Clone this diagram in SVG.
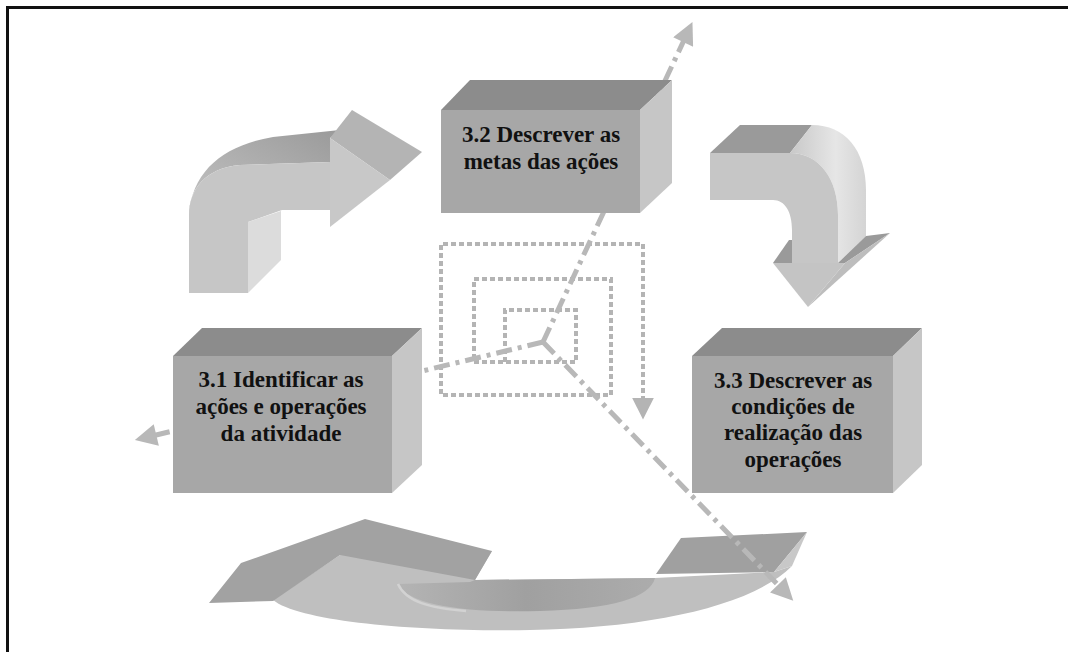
<svg xmlns="http://www.w3.org/2000/svg" width="1068" height="652" viewBox="0 0 1068 652">
  <style>
    .top { fill: #8c8c8c; }
    .front { fill: #a7a7a7; }
    .side { fill: #c6c6c6; }
    .label { font-family: "Liberation Serif", "Times New Roman", serif; font-weight: bold; font-size: 23px; fill: #111; text-anchor: middle; }
    .ray { fill: none; stroke: #b8b8b8; stroke-width: 5; stroke-dasharray: 16 6 4 6; }
    .spiral { fill: none; stroke: #b4b4b4; stroke-width: 4; stroke-dasharray: 5 3; }
  </style>
  <defs>
    <marker id="head" viewBox="0 0 10 10" refX="2" refY="5" markerWidth="24" markerHeight="22" markerUnits="userSpaceOnUse" orient="auto">
      <path d="M0,0 L10,5 L0,10 Z" fill="#b8b8b8"/>
    </marker>
    <marker id="spiralHead" viewBox="0 0 10 10" refX="2" refY="5" markerWidth="22" markerHeight="24" markerUnits="userSpaceOnUse" orient="auto">
      <path d="M0,0 L10,5 L0,10 Z" fill="#b4b4b4"/>
    </marker>
    <linearGradient id="bendTop" x1="0" y1="1" x2="1" y2="0">
      <stop offset="0" stop-color="#c4c4c4"/>
      <stop offset="1" stop-color="#9a9a9a"/>
    </linearGradient>
    <linearGradient id="bendSide" x1="0" y1="0" x2="1" y2="0">
      <stop offset="0" stop-color="#c8c8c8"/>
      <stop offset="0.6" stop-color="#e6e6e6"/>
      <stop offset="1" stop-color="#d4d4d4"/>
    </linearGradient>
    <linearGradient id="innerWall" x1="0" y1="0" x2="1" y2="0">
      <stop offset="0" stop-color="#b4b4b4"/>
      <stop offset="0.5" stop-color="#a0a0a0"/>
      <stop offset="1" stop-color="#acacac"/>
    </linearGradient>
  </defs>

  <rect width="1068" height="652" fill="#fff"/>
  <!-- frame -->
  <path d="M7.5,652 V7.5 H1068" fill="none" stroke="#111" stroke-width="3"/>

  <!-- curved arrow from 3.1 to 3.2 -->
  <g id="arrow-up">
    <path d="M189,215 C192,170 225,145 273,137 L340,130 L330,138 L330,162 L240,165 C205,168 189,190 189,215 Z" fill="url(#bendTop)"/>
    <path d="M189,293 L189,215 C189,190 205,168 240,165 L330,162 L330,210 L282,210 L248,222 L248,293 Z" fill="#c6c6c6"/>
    <path d="M248,222 L281,211 L281,260 L248,293 Z" fill="#dcdcdc"/>
    <path d="M330,138 L352,110 L422,152 L390,180 Z" fill="#b4b4b4"/>
    <path d="M330,138 L390,180 L330,227 Z" fill="#c8c8c8"/>
  </g>

  <!-- curved arrow from 3.2 to 3.3 -->
  <g id="arrow-down">
    <path d="M710,153 L740,125 L812,125 L790,153 Z" fill="#9a9a9a"/>
    <path d="M790,153 L812,125 C845,125 866,150 866,190 L866,236 L838,263 L838,215 C838,180 820,153 790,153 Z" fill="url(#bendSide)"/>
    <path d="M710,153 L790,153 C820,153 838,180 838,215 L838,263 L792,263 L792,230 C792,212 785,200 773,200 L710,200 Z" fill="#c6c6c6"/>
    <path d="M773,263 L789,240 L792,240 L792,263 Z" fill="#9a9a9a"/>
    <path d="M838,263 L866,236 L890,233 L845,263 Z" fill="#9a9a9a"/>
    <path d="M845,263 L890,233 L808,307 Z" fill="#bdbdbd"/>
    <path d="M773,263 L845,263 L808,307 Z" fill="#c4c4c4"/>
  </g>

  <!-- flat return arrow from 3.3 to 3.1 -->
  <g id="arrow-return">
    <path d="M273,600 C300,622 420,632 530,630 C650,628 752,606 792,566 L774,572 L655,578 L475,580 L492,551 L340,555 Z" fill="#bfbfbf"/>
    <path d="M209,603 L241,563 L365,519 L492,551 L475,580 L340,555 L273,601 Z" fill="#a2a2a2"/>
    <path d="M398,584 C408,606 470,613 540,611 C612,609 650,598 655,578 L475,580 L470,582 Z" fill="url(#innerWall)"/>
    <path d="M398,584 C406,602 430,608 466,611" fill="none" stroke="#d2d2d2" stroke-width="2.5"/>
    <path d="M656,574 L681,538 L807,532 L774,572 Z" fill="#a0a0a0"/>
    <path d="M774,572 L807,532 L792,566 Z" fill="#c8c8c8"/>
  </g>

  <!-- connectors -->
  <g id="connectors">
    <path class="spiral" d="M505,362 V310 H576 V362 H474 V279 H611 V395 H441 V244 H643 V402" marker-end="url(#spiralHead)"/>
    <path class="ray" d="M543,342 L685,38" marker-end="url(#head)"/>
    <path class="ray" d="M543,342 L152,436" marker-end="url(#head)"/>
    <path class="ray" d="M543,342 L781,588" marker-end="url(#head)"/>
  </g>

  <g id="node-3-1">
    <path class="top" d="M173,356 L202,328 L422,328 L392,356 Z"/>
    <path class="side" d="M392,356 L422,328 L422,465 L392,493 Z"/>
    <rect class="front" x="173" y="356" width="219" height="137"/>
    <text class="label" x="281" y="387">3.1 Identificar as</text>
    <text class="label" x="281" y="414">ações e operações</text>
    <text class="label" x="281" y="441">da atividade</text>
  </g>

  <g id="node-3-2">
    <path class="top" d="M441,110 L470,80 L672,80 L640,110 Z"/>
    <path class="side" d="M640,110 L672,80 L672,183 L640,213 Z"/>
    <rect class="front" x="441" y="110" width="199" height="103"/>
    <text class="label" x="541" y="142">3.2 Descrever as</text>
    <text class="label" x="541" y="169">metas das ações</text>
  </g>

  <g id="node-3-3">
    <path class="top" d="M692,356 L722,328 L922,328 L893,356 Z"/>
    <path class="side" d="M893,356 L922,328 L922,465 L893,493 Z"/>
    <rect class="front" x="692" y="356" width="201" height="137"/>
    <text class="label" x="793" y="388">3.3 Descrever as</text>
    <text class="label" x="793" y="414">condições de</text>
    <text class="label" x="793" y="440">realização das</text>
    <text class="label" x="793" y="467">operações</text>
  </g>
</svg>
